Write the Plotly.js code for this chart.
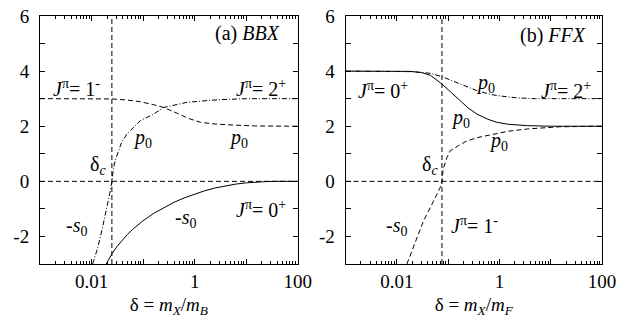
<!DOCTYPE html>
<html>
<head>
<meta charset="utf-8">
<script src="https://cdn.plot.ly/plotly-3.0.1.min.js"></script>
<style>html,body{margin:0;padding:0;background:#fff}</style>
</head>
<body>
<div id="chart" style="width:621px;height:322px"></div>
<script>
// ---- Panel (a) BBX ----
const deltaC_BBX = 0.0248;
const bbx_J1m_x = [0.001, 0.01, 0.025, 0.05, 0.088, 0.16, 0.25, 0.46, 0.72, 1.3, 2.5, 5.8, 15, 100];
const bbx_J1m_y = [3, 3, 2.99, 2.95, 2.89, 2.78, 2.68, 2.47, 2.3, 2.14, 2.08, 2.04, 2.01, 2.0];
const bbx_J2p_x = [0.0105, 0.013, 0.016, 0.02, 0.0225, 0.0248, 0.0265, 0.0287, 0.038, 0.0485, 0.088, 0.16, 0.25, 0.72, 2.76, 10, 100];
const bbx_J2p_y = [-3, -2.45, -1.75, -0.95, -0.45, 0, 0.45, 0.75, 1.4, 1.72, 2.2, 2.44, 2.68, 2.87, 2.96, 3.0, 3.0];
const bbx_J0p_x = [0.0192, 0.0251, 0.0316, 0.0398, 0.0501, 0.063, 0.0794, 0.1, 0.158, 0.251, 0.398, 0.631, 1, 1.58, 2.51, 3.98, 6.31, 10, 15.8, 25.1, 39.8, 100];
const bbx_J0p_y = [-3, -2.62, -2.35, -2.12, -1.92, -1.74, -1.58, -1.43, -1.17, -0.95, -0.76, -0.6, -0.46, -0.34, -0.24, -0.16, -0.1, -0.055, -0.025, -0.008, 0, 0];

// ---- Panel (b) FFX ----
const deltaC_FFX = 0.0757;
const ffx_J0p_x = [0.001, 0.01, 0.018, 0.03, 0.045, 0.0757, 0.12, 0.172, 0.25, 0.365, 0.6, 0.9, 1.5, 3.5, 10, 100];
const ffx_J0p_y = [4, 4, 3.99, 3.95, 3.85, 3.53, 3.2, 2.93, 2.65, 2.44, 2.25, 2.14, 2.07, 2.02, 2.0, 2.0];
const ffx_J2p_x = [0.001, 0.01, 0.02, 0.045, 0.0757, 0.12, 0.172, 0.25, 0.365, 0.6, 0.9, 2.2, 5, 100];
const ffx_J2p_y = [4, 4, 3.98, 3.92, 3.8, 3.65, 3.53, 3.4, 3.29, 3.18, 3.11, 3.03, 3.0, 3.0];
const ffx_J1m_x = [0.0157, 0.02, 0.033, 0.056, 0.07, 0.0757, 0.08, 0.095, 0.11, 0.16, 0.234, 0.4, 0.77, 1.5, 3.5, 15, 100];
const ffx_J1m_y = [-3, -2.5, -1.44, -0.6, -0.22, 0, 0.45, 0.87, 1.11, 1.3, 1.47, 1.6, 1.72, 1.82, 1.9, 1.98, 2.0];

// ---- Axes ----
const xRange = [0.001, 100];
const yRange = [-3, 6];
const xTickVals = [0.001, 0.01, 0.1, 1, 10, 100];
const xTickText = ['', '0.01', '', '1', '', '100'];
const yTickVals = [-2, 0, 2, 4, 6];
const yTickText = ['-2', '0', '2', '4', '6'];
const xTitleA = 'δ = <i>m</i><sub><i>X</i></sub>/<i>m</i><sub><i>B</i></sub>';
const xTitleB = 'δ = <i>m</i><sub><i>X</i></sub>/<i>m</i><sub><i>F</i></sub>';

const minorX = [];
for (let e = -3; e < 2; e++) for (let d = 2; d <= 9; d++) minorX.push(d * Math.pow(10, e));

const DASH = '5px,3px';
const DASHDOT = '5px,2px,1px,2px';
const ln = (dash) => ({color: '#000', width: 1, dash: dash});

function tr(x, y, dash, ax) {
  return {x: x, y: y, mode: 'lines', line: ln(dash), xaxis: ax === 2 ? 'x2' : 'x', yaxis: ax === 2 ? 'y2' : 'y', hoverinfo: 'skip', showlegend: false};
}

const traces = [
  tr(xRange, [0, 0], DASH, 1),
  tr([deltaC_BBX, deltaC_BBX], yRange, DASH, 1),
  tr(bbx_J1m_x, bbx_J1m_y, DASH, 1),
  tr(bbx_J2p_x, bbx_J2p_y, DASHDOT, 1),
  tr(bbx_J0p_x, bbx_J0p_y, 'solid', 1),
  tr(xRange, [0, 0], DASH, 2),
  tr([deltaC_FFX, deltaC_FFX], yRange, DASH, 2),
  tr(ffx_J0p_x, ffx_J0p_y, 'solid', 2),
  tr(ffx_J2p_x, ffx_J2p_y, DASHDOT, 2),
  tr(ffx_J1m_x, ffx_J1m_y, DASH, 2)
];

const FONT = "'Liberation Serif', 'Times New Roman', serif";

function xax(domain, title) {
  return {
    type: 'log', range: [Math.log10(xRange[0]), Math.log10(xRange[1])], domain: domain,
    tickmode: 'array', tickvals: xTickVals, ticktext: xTickText,
    ticks: 'inside', ticklen: 5, tickcolor: '#000', tickwidth: 1,
    minor: {tickmode: 'array', tickvals: minorX, ticks: 'inside', ticklen: 3, tickcolor: '#000', tickwidth: 1, showgrid: false},
    showline: true, linecolor: '#000', linewidth: 1, mirror: 'ticks',
    showgrid: false, zeroline: false,
    tickfont: {family: FONT, size: 19, color: '#000'},
    title: {text: title, font: {family: FONT, size: 19, color: '#000'}, standoff: 6},
    fixedrange: true
  };
}
function yax(anchor) {
  return {
    range: yRange, anchor: anchor,
    tickmode: 'array', tickvals: yTickVals, ticktext: yTickText,
    ticks: 'inside', ticklen: 5, tickcolor: '#000', tickwidth: 1,
    minor: {dtick: 1, ticks: 'inside', ticklen: 5, tickcolor: '#000', tickwidth: 1, showgrid: false},
    showline: true, linecolor: '#000', linewidth: 1, mirror: 'ticks',
    showgrid: false, zeroline: false,
    tickfont: {family: FONT, size: 19, color: '#000'},
    ticklabelstandoff: 6,
    fixedrange: true
  };
}

function ann(ax, x, y, text, xanchor) {
  return {xref: ax === 2 ? 'x2' : 'x', yref: ax === 2 ? 'y2' : 'y', x: x, y: y, text: text,
    showarrow: false, xanchor: xanchor || 'center', yanchor: 'middle',
    font: {family: FONT, size: 20, color: '#000'}};
}
const Jp = (n, s) => '<i>J</i><sup>π</sup>= ' + n + '<sup>' + s + '</sup>';
const p0 = '<i>p</i><sub>0</sub>';
const s0 = '-<i>s</i><sub>0</sub>';
const dc = 'δ<sub><i>c</i></sub>';

const annotations = [
  ann(1, 1.70, 5.36, '(a) <i>BBX</i>', 'right'),
  ann(1, -2.29, 3.4, Jp('1', '-')),
  ann(1, 1.285, 3.4, Jp('2', '+')),
  ann(1, -1.006, 1.55, p0),
  ann(1, 0.846, 1.55, p0),
  ann(1, -1.873, 0.56, dc),
  ann(1, -2.30, -1.65, s0),
  ann(1, -0.177, -1.35, s0),
  ann(1, 1.285, -1.0, Jp('0', '+')),
  ann(2, 1.72, 5.3, '(b) <i>FFX</i>', 'right'),
  ann(2, -2.268, 3.3, Jp('0', '+')),
  ann(2, -0.275, 3.55, p0),
  ann(2, 1.307, 3.3, Jp('2', '+')),
  ann(2, -0.764, 2.28, p0),
  ann(2, -0.021, 1.45, p0),
  ann(2, -1.35, 0.56, dc),
  ann(2, -2.015, -1.65, s0),
  ann(2, -0.49, -1.6, Jp('1', '-'))
];

const layout = {
  width: 621, height: 322,
  margin: {l: 40, r: 19, t: 16, b: 58},
  paper_bgcolor: '#fff', plot_bgcolor: '#fff',
  showlegend: false,
  xaxis: xax([0, 0.4586], xTitleA),
  yaxis: yax('x'),
  xaxis2: xax([0.5437, 1], xTitleB),
  yaxis2: yax('x2'),
  annotations: annotations,
  font: {family: FONT, color: '#000'}
};

Plotly.newPlot('chart', traces, layout, {displayModeBar: false, staticPlot: true});
</script>
</body>
</html>
